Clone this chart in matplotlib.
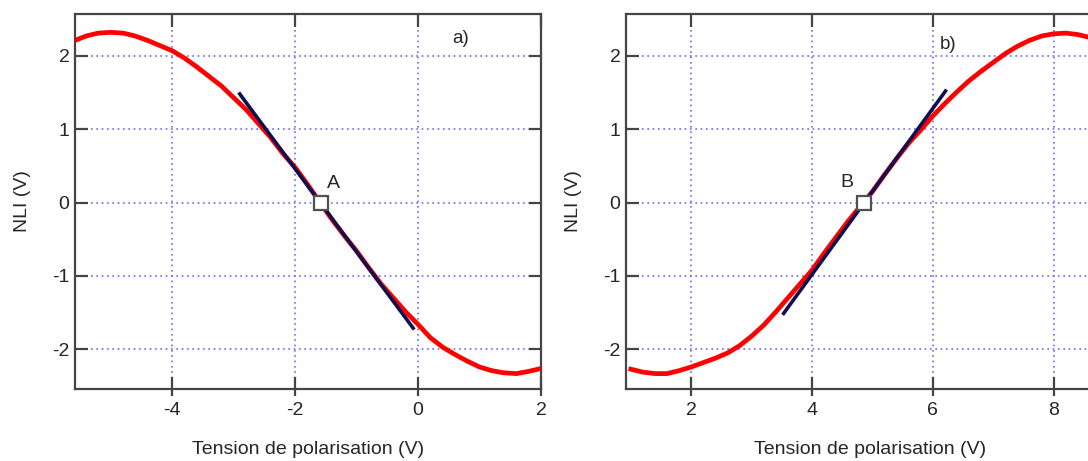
import matplotlib
matplotlib.use('Agg')
import matplotlib.pyplot as plt

plt.rcParams['font.family'] = ['Liberation Sans', 'DejaVu Sans']
plt.rcParams['axes.unicode_minus'] = False

# Panel a) measured NLI vs bias voltage
xa = [-5.55, -5.4, -5.2, -5.0, -4.8, -4.6, -4.4, -4.2, -4.0, -3.8, -3.6, -3.4, -3.2,
      -3.0, -2.8, -2.6, -2.4, -2.2, -2.0, -1.8, -1.6, -1.4, -1.2, -1.0, -0.8, -0.6,
      -0.4, -0.2, 0.0, 0.2, 0.4, 0.6, 0.8, 1.0, 1.2, 1.4, 1.6, 1.8, 2.0]
ya = [2.22, 2.27, 2.31, 2.32, 2.31, 2.27, 2.21, 2.14, 2.07, 1.97, 1.85, 1.72, 1.59,
      1.43, 1.27, 1.08, 0.89, 0.67, 0.48, 0.25, 0.01, -0.23, -0.45, -0.66, -0.89, -1.11,
      -1.30, -1.49, -1.66, -1.84, -1.97, -2.07, -2.16, -2.24, -2.29, -2.32, -2.33, -2.30, -2.26]
tan_a_x = [-2.90, -0.08]
tan_a_y = [1.48, -1.71]
pt_a = (-1.58, 0.0)

# Panel b)
xb = [1.0, 1.2, 1.4, 1.6, 1.8, 2.0, 2.2, 2.4, 2.6, 2.8, 3.0, 3.2, 3.4, 3.6, 3.8,
      4.0, 4.2, 4.4, 4.6, 4.8, 5.0, 5.2, 5.4, 5.6, 5.8, 6.0, 6.2, 6.4, 6.6, 6.8,
      7.0, 7.2, 7.4, 7.6, 7.8, 8.0, 8.2, 8.4, 8.6, 8.8]
yb = [-2.27, -2.31, -2.33, -2.33, -2.29, -2.24, -2.18, -2.12, -2.05, -1.95, -1.82,
      -1.67, -1.49, -1.30, -1.11, -0.92, -0.69, -0.47, -0.25, -0.05, 0.15, 0.38, 0.60,
      0.81, 0.99, 1.18, 1.35, 1.51, 1.66, 1.79, 1.91, 2.03, 2.13, 2.21, 2.27, 2.30,
      2.31, 2.29, 2.25, 2.19]
tan_b_x = [3.53, 6.21]
tan_b_y = [-1.51, 1.52]
pt_b = (4.86, 0.0)

yticks = [-2, -1, 0, 1, 2]
text_c = '#262626'
spine_c = '#454545'
grid_c = '#6a6aff'
fs = 14

fig = plt.figure(figsize=(10.88, 4.61), dpi=100)
W, H = 1088, 461
ax1 = fig.add_axes([75 / W, (H - 389) / H, (541 - 75) / W, (389 - 14) / H])
ax2 = fig.add_axes([626 / W, (H - 389) / H, (1114 - 626) / W, (389 - 14) / H])


def style(ax, xlim, xticks):
    ax.set_xlim(*xlim)
    ax.set_ylim(-2.54, 2.57)
    ax.set_xticks(xticks)
    ax.set_yticks(yticks)
    ax.grid(True, color=grid_c, linestyle=(0, (1, 2.2)), linewidth=1.2)
    for s in ax.spines.values():
        s.set_color(spine_c)
        s.set_linewidth(1.6)
    ax.tick_params(axis='x', direction='in', length=9, width=1.6, color=spine_c,
                   top=True, bottom=True, labelsize=fs, labelcolor=text_c, pad=9)
    ax.tick_params(axis='y', direction='in', length=9, width=1.6, color=spine_c,
                   left=True, right=True, labelsize=fs, labelcolor=text_c, pad=4)
    # short outward part of the bottom ticks
    bot = ax.secondary_xaxis('bottom')
    bot.set_xticks(xticks)
    bot.tick_params(direction='out', length=5, width=1.6, color=spine_c, labelbottom=False)
    bot.spines['bottom'].set_visible(False)
    ax.set_xlabel('Tension de polarisation (V)', fontsize=fs, color=text_c, labelpad=16)
    ax.set_ylabel('NLI (V)', fontsize=fs, color=text_c, labelpad=15)


style(ax1, (-5.58, 2.0), [-4, -2, 0, 2])
style(ax2, (0.92, 9.0), [2, 4, 6, 8])

ax1.plot(xa, ya, color='#ff0000', linewidth=3.4, zorder=3)
ax1.plot(tan_a_x, tan_a_y, color='#101050', linewidth=2.6, zorder=4)
ax1.plot(*pt_a, marker='s', markersize=10, markerfacecolor='white',
         markeredgecolor='#505050', markeredgewidth=1.6, zorder=5)
ax1.text(-1.37, 0.26, 'A', fontsize=fs, color=text_c, ha='center', va='center')
ax1.text(0.70, 2.23, 'a)', fontsize=13.5, color=text_c, ha='center', va='center')

ax2.plot(xb, yb, color='#ff0000', linewidth=3.4, zorder=3)
ax2.plot(tan_b_x, tan_b_y, color='#101050', linewidth=2.6, zorder=4)
ax2.plot(*pt_b, marker='s', markersize=10, markerfacecolor='white',
         markeredgecolor='#505050', markeredgewidth=1.6, zorder=5)
ax2.text(4.58, 0.28, 'B', fontsize=fs, color=text_c, ha='center', va='center')
ax2.text(6.25, 2.15, 'b)', fontsize=13.5, color=text_c, ha='center', va='center')

fig.savefig('out.png', dpi=100)
